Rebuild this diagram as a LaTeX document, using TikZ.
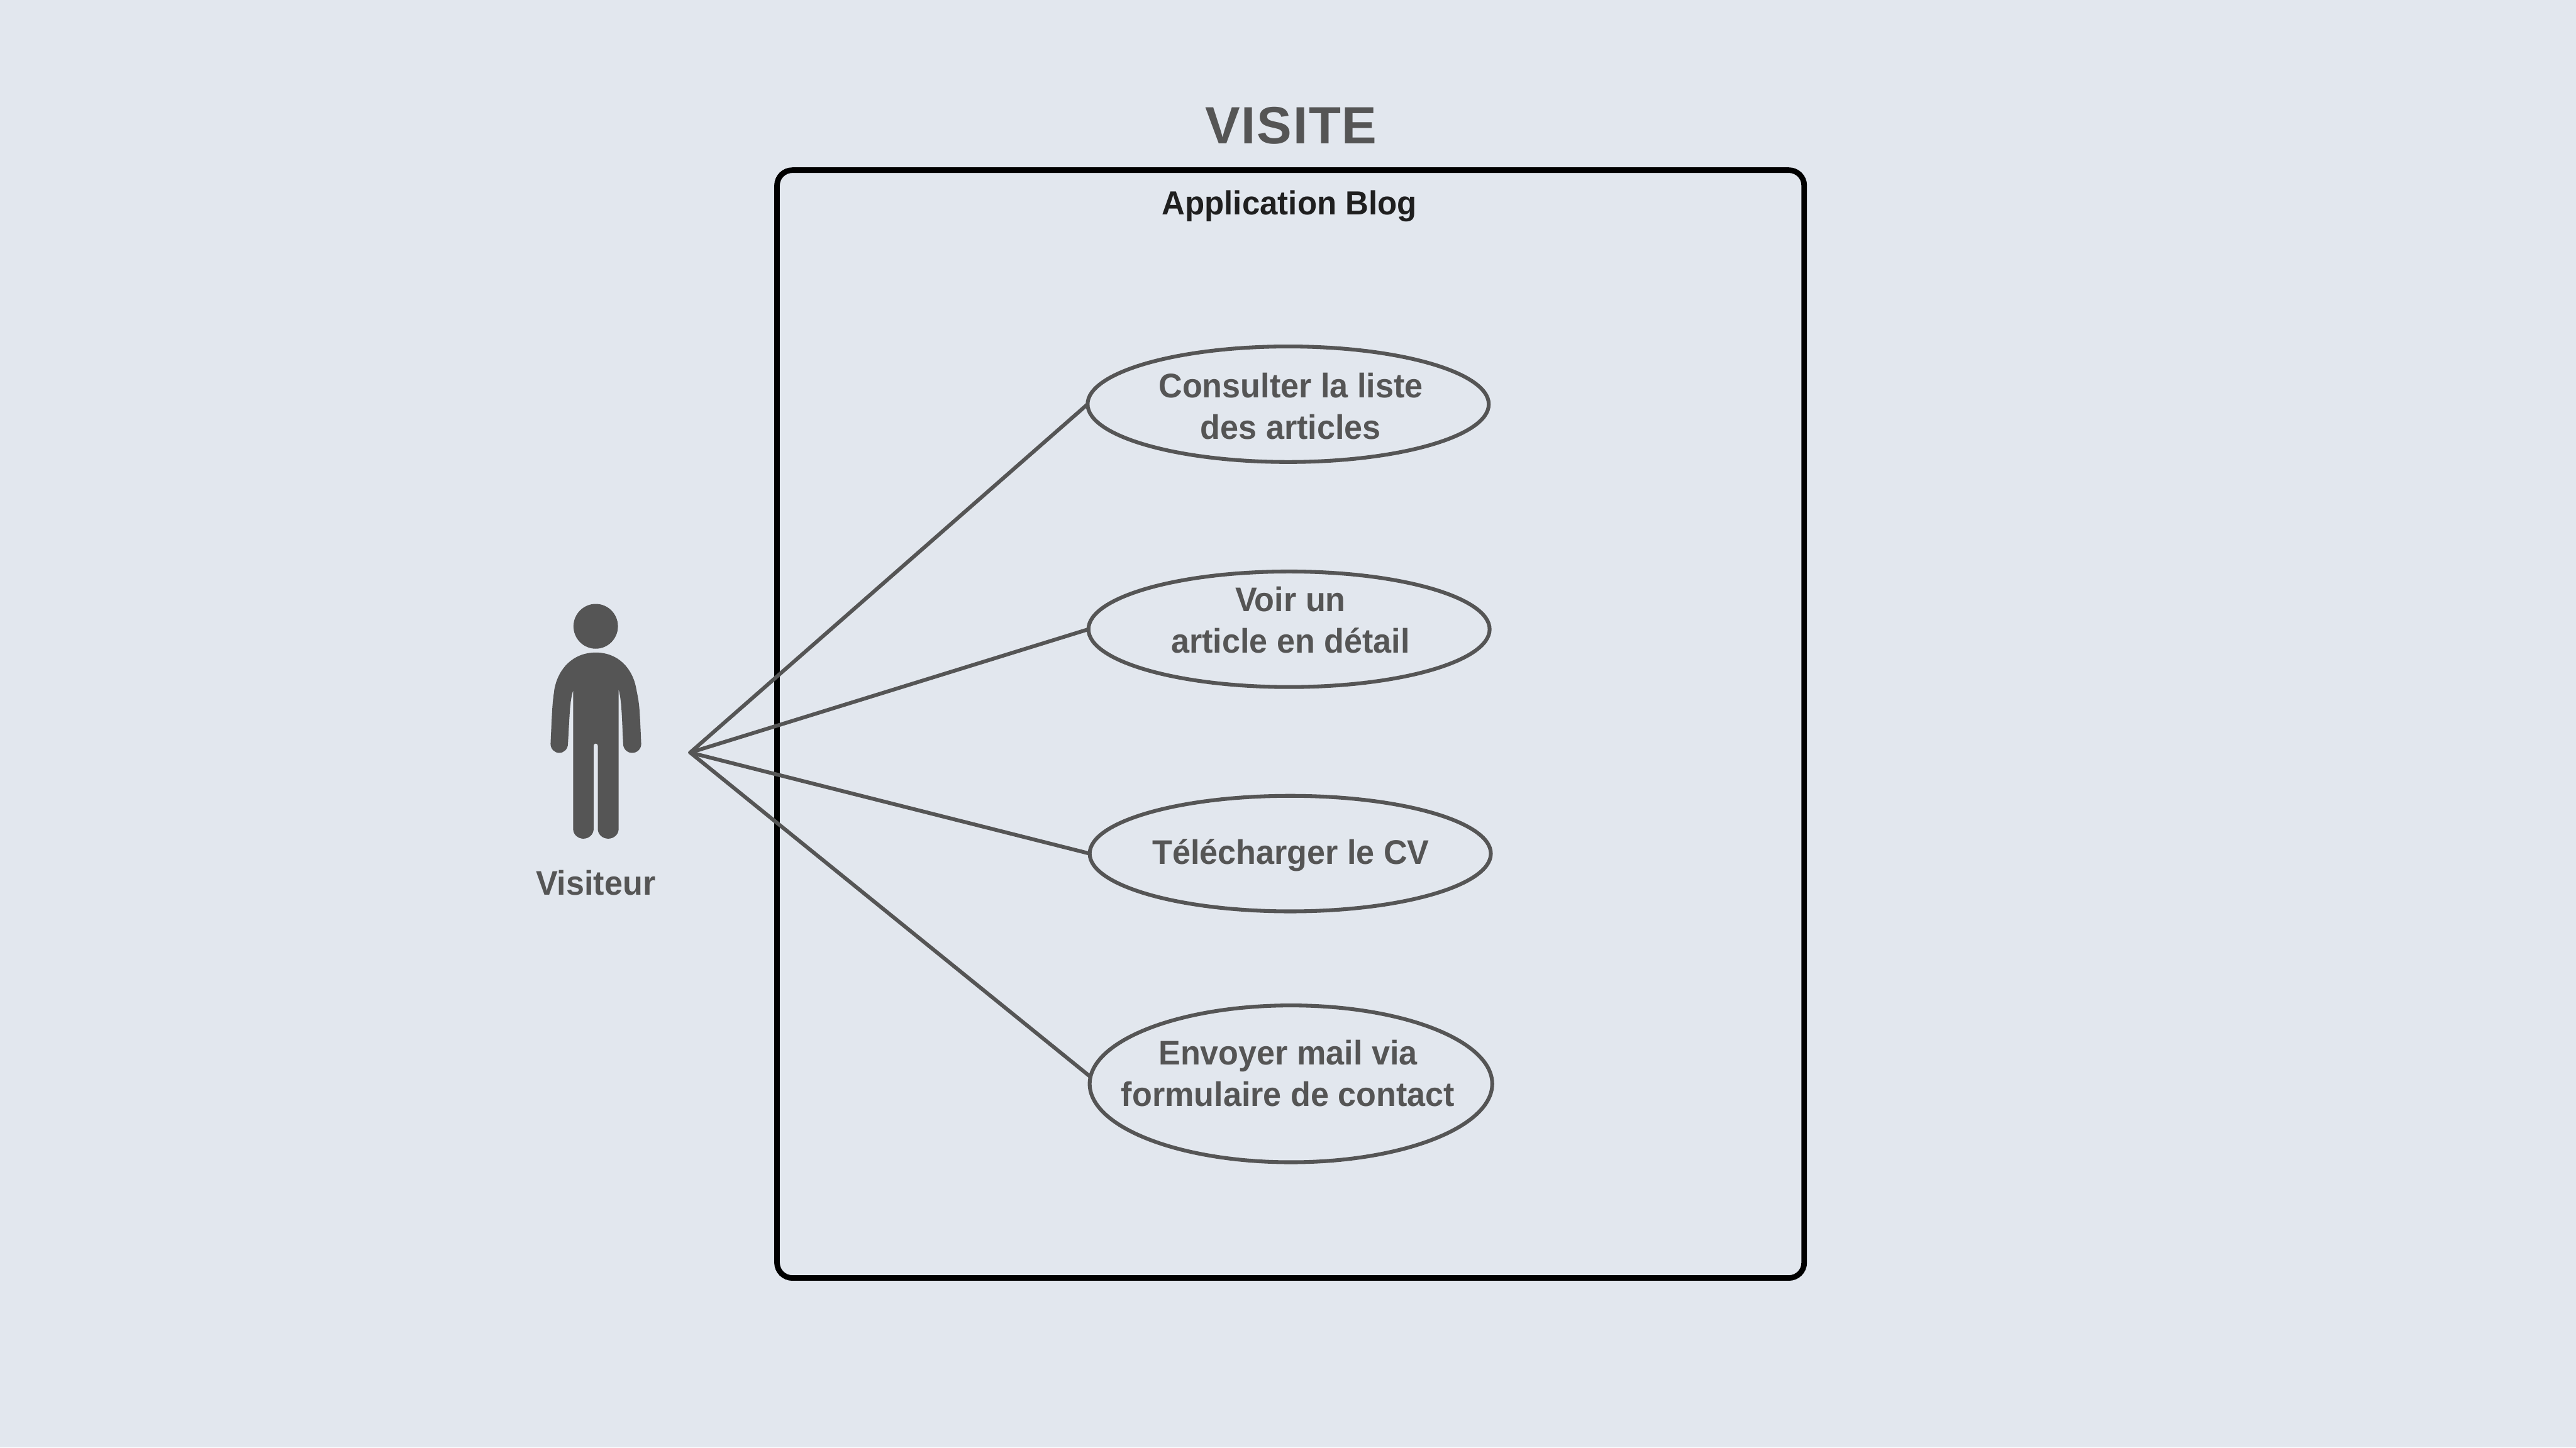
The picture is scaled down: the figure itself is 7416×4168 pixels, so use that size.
\documentclass[tikz,border=0pt]{standalone}
\usepackage{fontspec}
\setmainfont{Liberation Sans}[BoldFeatures={FakeStretch=0.96}]
\newfontfamily\titlefont{Liberation Sans}[LetterSpace=2.2]
\usetikzlibrary{shapes.geometric}
\definecolor{bgc}{HTML}{E2E7EE}
\definecolor{gry}{HTML}{555555}
\definecolor{ttl}{HTML}{1F1F1F}
\tikzset{x=0.005cm,y=-0.005cm,
 usecase/.style={ellipse,draw=gry,line width=0.55mm,inner sep=0pt,outer sep=0pt,minimum width=5.78cm,minimum height=1.665cm},
 link/.style={draw=gry,line width=0.55mm,line cap=round},
 lbl/.style={inner sep=0pt,align=center,text=gry,font=\fontsize{14}{17}\selectfont\bfseries}}
\begin{document}
\begin{tikzpicture}
\useasboundingbox (0,0) rectangle (7416,4168);
\fill[bgc] (0,0) rectangle (7416,4168);
\draw[black,line width=0.8mm,rounded corners=0.22cm] (2237,490) rectangle (5194,3680);
\node[lbl,font=\fontsize{21.5}{26}\selectfont\titlefont\bfseries] (title) at (3717,362) {VISITE};
\node[lbl,text=ttl,font=\fontsize{13.7}{17}\selectfont\bfseries] (app) at (3712,594) {Application Blog};
\node[usecase] (a) at (3708.5,1164) {};
\node[usecase] (b) at (3711,1812) {};
\node[usecase] (c) at (3714.5,2458) {};
\node[usecase,minimum width=5.8cm,minimum height=2.26cm] (d) at (3716.5,3121) {};
\node[lbl] (atext) at (3716,1170) {Consulter la liste\\des articles};
\node[lbl] (btext) at (3715,1786) {Voir un\\article en détail};
\node[lbl] (ctext) at (3716,2462) {Télécharger le CV};
\node[lbl] (dtext) at (3708,3090) {Envoyer mail via\\formulaire de contact};
\coordinate (hub) at (1987,2167);
\draw[link] (hub) -- (a.west);
\draw[link] (hub) -- (b.west);
\draw[link] (hub) -- (c.west);
\draw[link] (hub) -- (d.178.7);
\fill[gry] (1715,1803.5) ellipse (64 and 64.5);
\fill[gry] (1715,1879) .. controls (1650,1879) and (1607,1925) .. (1596,1985)
 .. controls (1590,2030) .. (1585,2142)
 arc[start angle=180,end angle=360,x radius=25,y radius=-26]
 .. controls (1640,2060) and (1640,2020) .. (1650,1988) -- (1650,2387)
 arc[start angle=180,end angle=360,x radius=29.5,y radius=-28] -- (1709,2147)
 arc[start angle=180,end angle=360,x radius=6,y radius=6] -- (1721,2387)
 arc[start angle=180,end angle=360,x radius=30,y radius=-28] -- (1781,1985)
 .. controls (1790,2020) and (1790,2060) .. (1794,2142)
 arc[start angle=180,end angle=360,x radius=26,y radius=-26]
 .. controls (1841,2030) .. (1832,1985)
 .. controls (1822,1925) and (1780,1879) .. (1715,1879) -- cycle;
\node[lbl] (actor) at (1715,2542) {Visiteur};
\end{tikzpicture}
\end{document}
